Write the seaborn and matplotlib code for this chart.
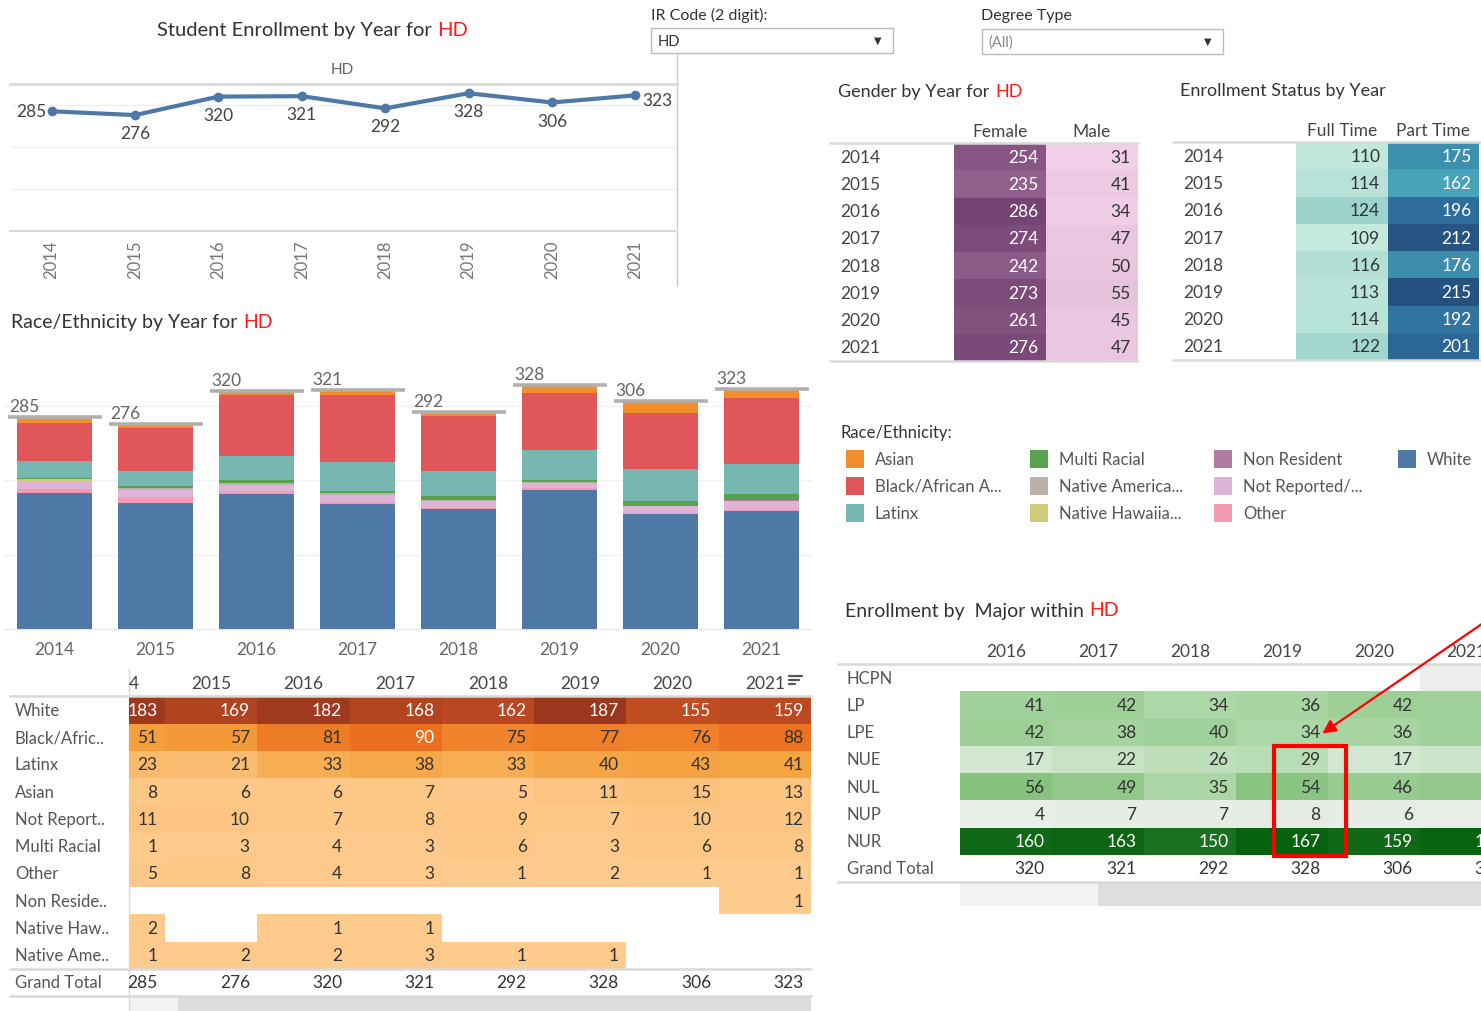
import numpy as np
import pandas as pd
import matplotlib
matplotlib.use("Agg")
import matplotlib.pyplot as plt
import seaborn as sns
from matplotlib.colors import LinearSegmentedColormap
from matplotlib.patches import Rectangle
from matplotlib.transforms import blended_transform_factory

# ---------------- data ----------------
years = [2014, 2015, 2016, 2017, 2018, 2019, 2020, 2021]
total_enrollment = [285, 276, 320, 321, 292, 328, 306, 323]

nan = np.nan
race_labels = ["White", "Black/Afric..", "Latinx", "Asian", "Not Report..",
               "Multi Racial", "Other", "Non Reside..", "Native Haw..", "Native Ame.."]
race_white = [183, 169, 182, 168, 162, 187, 155, 159]
race_black = [51, 57, 81, 90, 75, 77, 76, 88]
race_latinx = [23, 21, 33, 38, 33, 40, 43, 41]
race_asian = [8, 6, 6, 7, 5, 11, 15, 13]
race_not_reported = [11, 10, 7, 8, 9, 7, 10, 12]
race_multi = [1, 3, 4, 3, 6, 3, 6, 8]
race_other = [5, 8, 4, 3, 1, 2, 1, 1]
race_non_resident = [nan, nan, nan, nan, nan, nan, nan, 1]
race_native_haw = [2, nan, 1, 1, nan, nan, nan, nan]
race_native_ame = [1, 2, 2, 3, 1, 1, nan, nan]

gender_female = [254, 235, 286, 274, 242, 273, 261, 276]
gender_male = [31, 41, 34, 47, 50, 55, 45, 47]
status_full = [110, 114, 124, 109, 116, 113, 114, 122]
status_part = [175, 162, 196, 212, 176, 215, 192, 201]

major_years = [2016, 2017, 2018, 2019, 2020, 2021]
majors = ["HCPN", "LP", "LPE", "NUE", "NUL", "NUP", "NUR"]
major_hcpn = [nan, nan, nan, nan, nan, 3]
major_lp = [41, 42, 34, 36, 42, 41]
major_lpe = [42, 38, 40, 34, 36, 40]
major_nue = [17, 22, 26, 29, 17, 20]
major_nul = [56, 49, 35, 54, 46, 49]
major_nup = [4, 7, 7, 8, 6, 5]
major_nur = [160, 163, 150, 167, 159, 165]
major_total = [320, 321, 292, 328, 306, 323]

legend_labels = ["Asian", "Black/African A...", "Latinx", "Multi Racial", "Native America...",
                 "Native Hawaiia...", "Non Resident", "Not Reported/...", "Other", "White"]
legend_colors = ["#f28e2b", "#e15759", "#76b7b2", "#59a14f", "#bab0ac",
                 "#d1cc7c", "#b07aa1", "#ddb4d6", "#f59ab5", "#4e79a7"]

# stacking order, bottom -> top
stack_series = [race_white, race_other, race_not_reported, race_non_resident, race_native_haw,
                race_native_ame, race_multi, race_latinx, race_black, race_asian]
stack_colors = ["#4e79a7", "#f59ab5", "#ddb4d6", "#b07aa1", "#d1cc7c",
                "#bab0ac", "#59a14f", "#76b7b2", "#e15759", "#f28e2b"]

# ---------------- setup ----------------
sns.set_style("white")
plt.rcParams["font.family"] = ["Lato", "DejaVu Sans"]

W, H = 1481, 1012
fig = plt.figure(figsize=(W / 100, H / 100), dpi=100)


def px_axes(x0, y0, x1, y1, z=1):
    ax = fig.add_axes([x0 / W, 1 - y1 / H, (x1 - x0) / W, (y1 - y0) / H], zorder=z)
    ax.set_facecolor("none")
    return ax


bg = px_axes(0, 0, W, H, z=0)
bg.set_xlim(0, W)
bg.set_ylim(H, 0)
bg.axis("off")

TXT = "#333333"
LBL = "#555555"
LINE = "#d9d9d9"


def title(x, y, s, red=None, size=14):
    t = bg.text(x, y, s, fontsize=size, color=TXT, va="center", ha="left")
    if red:
        bg.annotate(red, xy=(1, 0), xycoords=t, xytext=(4, 0), textcoords="offset points",
                    ha="left", va="bottom", fontsize=size, color="#ff1a1a")
    return t


# ---------------- line chart ----------------
title(157, 30, "Student Enrollment by Year for", "HD", 14.5)
bg.text(342, 70, "HD", fontsize=11, color="#666666", ha="center", va="center")

ax1 = px_axes(10, 85, 677, 232)
xs = np.arange(len(years))
sns.lineplot(x=xs, y=total_enrollment, ax=ax1, color="#4e79a7", lw=3,
             marker="o", markersize=7, markeredgewidth=0)
ax1.set_xlim(-0.5, 7.5)
ax1.set_ylim(0, 350)
for gy in [100, 200, 300]:
    ax1.axhline(gy, color="#efefef", lw=1, zorder=0)
for side in ["left", "right"]:
    ax1.spines[side].set_visible(False)
ax1.spines["top"].set_color(LINE)
ax1.spines["top"].set_linewidth(2)
ax1.spines["bottom"].set_color(LINE)
ax1.spines["bottom"].set_linewidth(1.5)
ax1.set_yticks([])
ax1.set_xticks(xs)
ax1.set_xticklabels(years, rotation=90, fontsize=12, color="#777777")
ax1.tick_params(axis="x", length=0, pad=6)
ax1.set_xticks(xs[:-1] + 0.5, minor=True)
ax1.tick_params(axis="x", which="minor", length=8, color="#eeeeee")
ax1.set_xlabel("")
for i, v in enumerate(total_enrollment):
    if i == 0:
        off, ha = (-4, 0), "right"
    elif i == len(years) - 1:
        off, ha = (5, -3), "left"
    else:
        off, ha = (0, -13), "center"
    ax1.annotate(str(v), xy=(i, v), xytext=off, textcoords="offset points",
                 ha=ha, va="center", fontsize=12.5, color="#444444")

bg.plot([677, 677], [55, 287], color="#cccccc", lw=1)

# ---------------- filters ----------------
bg.text(651, 15, "IR Code (2 digit):", fontsize=11.5, color=TXT, va="center")
bg.add_patch(Rectangle((651, 29), 242, 25, fc="white", ec="#bbbbbb", lw=1))
bg.text(658, 42, "HD", fontsize=10.5, color=TXT, va="center")
bg.text(878, 41, "▼", fontsize=7, color=TXT, va="center", ha="center", family="DejaVu Sans")
bg.text(981, 16, "Degree Type", fontsize=11.5, color=TXT, va="center")
bg.add_patch(Rectangle((982, 30), 241, 25, fc="white", ec="#bbbbbb", lw=1))
bg.text(988, 43, "(All)", fontsize=10.5, color="#888888", va="center")
bg.text(1208, 42, "▼", fontsize=7, color=TXT, va="center", ha="center", family="DejaVu Sans")

# ---------------- stacked bars ----------------
title(11, 322, "Race/Ethnicity by Year for", "HD", 14)
ax2 = px_axes(4, 360, 812, 630)
bottom = np.zeros(len(years))
for vals, col in zip(stack_series, stack_colors):
    v = np.nan_to_num(np.array(vals, dtype=float))
    ax2.bar(xs, v, bottom=bottom, width=0.74, color=col, edgecolor="none", zorder=2)
    bottom += v
ax2.set_xlim(-0.5, 7.5)
ax2.set_ylim(0, 363)
for gy in [100, 200, 300]:
    ax2.axhline(gy, color="#f0f0f0", lw=1, zorder=0)
ax2.hlines(total_enrollment, xs - 0.46, xs + 0.47, color="#b0b0b0", lw=2.6, zorder=3)
for i, v in enumerate(total_enrollment):
    ax2.text(i - 0.45, v + 4, str(v), ha="left", va="bottom", fontsize=12.5, color="#666666")
for side in ["left", "right", "top"]:
    ax2.spines[side].set_visible(False)
ax2.spines["bottom"].set_color("#e6e6e6")
ax2.set_yticks([])
ax2.set_xticks(xs)
ax2.set_xticklabels(years, fontsize=12.5, color="#666666")
ax2.tick_params(axis="x", length=0, pad=9)
ax2.set_xticks(xs[:-1] + 0.5, minor=True)
ax2.tick_params(axis="x", which="minor", length=6, color="#e6e6e6")

# ---------------- heatmap helper ----------------


def table_heat(ax, df, cmap, vmin, vmax, light_thr, fs=12.5, hide=()):
    sns.heatmap(df, ax=ax, cmap=cmap, vmin=vmin, vmax=vmax, cbar=False,
                xticklabels=False, yticklabels=False, linewidths=0)
    ax.set_facecolor("none")
    for i in range(df.shape[0]):
        for j in range(df.shape[1]):
            v = df.iat[i, j]
            if pd.notna(v) and (i, j) not in hide:
                ax.text(j + 0.92, i + 0.5, f"{v:.0f}", ha="right", va="center", fontsize=fs,
                        color="white" if v >= light_thr else TXT, clip_on=True)
    for s in ax.spines.values():
        s.set_visible(False)


# ---------------- race table ----------------
race_df = pd.DataFrame([race_white, race_black, race_latinx, race_asian, race_not_reported,
                        race_multi, race_other, race_non_resident, race_native_haw, race_native_ame],
                       index=race_labels, columns=years)
orange = LinearSegmentedColormap.from_list("tab_orange", [
    (0, "#fecb8e"), (15 / 187, "#fcc27c"), (40 / 187, "#f5a544"), (60 / 187, "#f39737"),
    (90 / 187, "#ec6f1f"), (155 / 187, "#c14c22"), (1, "#9b371d")])
ax3 = px_axes(129, 670, 811, 997)
table_heat(ax3, race_df, orange, 0, 187, 89)
ax3.set_xlim(0.61, 8)
ax3.set_ylim(11, -1)
for j, y in enumerate(years):
    ax3.text(j + 0.5, -0.5, str(y), ha="center", va="center", fontsize=12.5, color="#444444", clip_on=True)
for j, v in enumerate(total_enrollment):
    ax3.text(j + 0.92, 10.5, str(v), ha="right", va="center", fontsize=12.5, color=TXT, clip_on=True)
tr3 = blended_transform_factory(bg.transData, ax3.transData)
for i, lab in enumerate(race_labels + ["Grand Total"]):
    ax3.text(15, i + 0.5, lab, transform=tr3, ha="left", va="center", fontsize=12, color=LBL, clip_on=False)
for yy in [0, 10, 11]:
    ax3.plot([10, 811], [yy, yy], transform=tr3, color=LINE, lw=1.8, clip_on=False)
bg.plot([129, 129], [670, 1012], color=LINE, lw=1)
for k, ln in enumerate([13, 10, 6]):
    bg.plot([789, 789 + ln], [677 + 4 * k, 677 + 4 * k], color="#555555", lw=1.6)
bg.add_patch(Rectangle((129, 998), 682, 14, fc="#f2f2f2", ec="none"))
bg.add_patch(Rectangle((178, 998), 633, 14, fc="#dcdcdc", ec="none"))

# ---------------- gender table ----------------
title(838, 92, "Gender by Year for", "HD", 13)
gender_df = pd.DataFrame({"Female": gender_female, "Male": gender_male}, index=years)
purple = LinearSegmentedColormap.from_list("tab_purple", ["#f2cfe8", "#764474"])
ax4 = px_axes(954, 117, 1138, 362)
table_heat(ax4, gender_df, purple, 31, 286, 150)
ax4.set_xlim(0, 2)
ax4.set_ylim(8, -1)
for j, c in enumerate(gender_df.columns):
    ax4.text(j + 0.5, -0.45, c, ha="center", va="center", fontsize=12.5, color="#444444")
tr4 = blended_transform_factory(bg.transData, ax4.transData)
for i, y in enumerate(years):
    ax4.text(840, i + 0.5, str(y), transform=tr4, ha="left", va="center", fontsize=12.5, color="#444444")
for yy in [0, 8]:
    ax4.plot([830, 1138], [yy, yy], transform=tr4, color=LINE, lw=1.8, clip_on=False)

# ---------------- status table ----------------
title(1180, 91, "Enrollment Status by Year", None, 13)
status_df = pd.DataFrame({"Full Time": status_full, "Part Time": status_part}, index=years)
blueteal = LinearSegmentedColormap.from_list("tab_blueteal", [
    (0, "#c4e9dd"), (0.14, "#9dd3cd"), (0.5, "#47a3b9"), (0.82, "#2e6e9c"), (1, "#26507f")])
ax5 = px_axes(1296, 116, 1479, 361)
table_heat(ax5, status_df, blueteal, 109, 215, 150)
ax5.set_xlim(0, 2)
ax5.set_ylim(8, -1)
for j, c in enumerate(status_df.columns):
    ax5.text(j + 0.5, -0.45, c, ha="center", va="center", fontsize=12.5, color="#444444")
tr5 = blended_transform_factory(bg.transData, ax5.transData)
for i, y in enumerate(years):
    ax5.text(1183, i + 0.5, str(y), transform=tr5, ha="left", va="center", fontsize=12.5, color="#444444")
for yy in [0, 8]:
    ax5.plot([1173, 1481], [yy, yy], transform=tr5, color=LINE, lw=1.8, clip_on=False)

# ---------------- legend ----------------
bg.text(840, 433, "Race/Ethnicity:", fontsize=12, color=TXT, va="center")
for k, (lab, col) in enumerate(zip(legend_labels, legend_colors)):
    cx = [846, 1030, 1214, 1398][k // 3]
    cy = [460, 487, 514][k % 3]
    bg.add_patch(Rectangle((cx, cy - 9), 18, 18, fc=col, ec="none"))
    bg.text(cx + 29, cy, lab, fontsize=12, color=LBL, va="center", ha="left")

# ---------------- major table ----------------
title(845, 611, "Enrollment by  Major within", "HD", 14)
major_df = pd.DataFrame([major_hcpn, major_lp, major_lpe, major_nue, major_nul, major_nup, major_nur],
                        index=majors, columns=major_years)
green = LinearSegmentedColormap.from_list("tab_green", [
    (0, "#eef0ed"), (8 / 167, "#e5ebe3"), (17 / 167, "#d2e7cf"), (36 / 167, "#a8d5a2"),
    (56 / 167, "#86c27e"), (1, "#07620e")])
ax6 = px_axes(960, 638, 1512, 883)
# the 2021 column is scrolled past the right edge: its small numbers are not visible
hidden_2021 = {(i, 5) for i in range(6)}
table_heat(ax6, major_df, green, 0, 167, 100, hide=hidden_2021)
ax6.set_xlim(0, 6)
ax6.set_ylim(8, -1)
for j, y in enumerate(major_years):
    ax6.text(j + 0.5, -0.5, str(y), ha="center", va="center", fontsize=12.5, color="#444444")
for j, v in enumerate(major_total):
    ax6.text(j + 0.92, 7.5, str(v), ha="right", va="center", fontsize=12.5, color=TXT)
tr6 = blended_transform_factory(bg.transData, ax6.transData)
for i, lab in enumerate(majors + ["Grand Total"]):
    ax6.text(847, i + 0.5, lab, transform=tr6, ha="left", va="center", fontsize=12, color=LBL)
for yy in [0, 8]:
    ax6.plot([838, 1481], [yy, yy], transform=tr6, color=LINE, lw=1.8, clip_on=False)
bg.add_patch(Rectangle((960, 884), 138, 23, fc="#f2f2f2", ec="none"))
bg.add_patch(Rectangle((1098, 884), 383, 23, fc="#dedede", ec="none"))

# ---------------- red annotation ----------------
top = px_axes(0, 0, W, H, z=10)
top.set_xlim(0, W)
top.set_ylim(H, 0)
top.axis("off")
top.add_patch(Rectangle((1274, 747), 72, 110, fc="none", ec="#ff0000", lw=3))
top.annotate("", xy=(1320, 736), xytext=(1492, 618),
             arrowprops=dict(arrowstyle="-|>", color="#ff0000", lw=1.6, mutation_scale=20))

fig.savefig("out.png", dpi=100)
